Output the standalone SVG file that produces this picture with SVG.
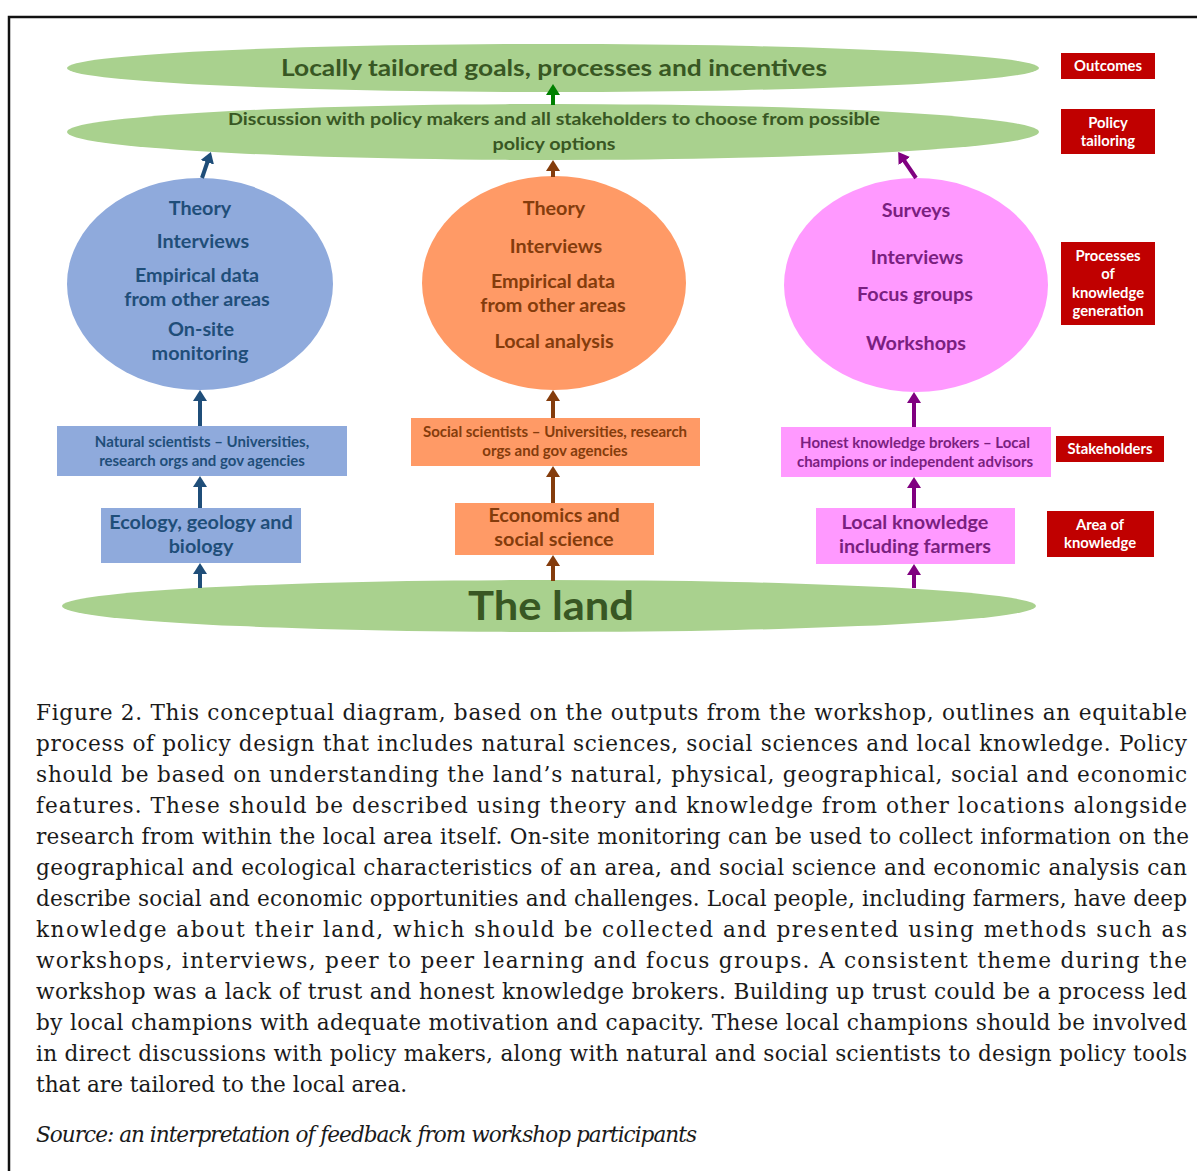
<svg xmlns="http://www.w3.org/2000/svg" width="1197" height="1171" viewBox="0 0 1197 1171">
<style>
.lbl{font-family:Lato,"Open Sans","Liberation Sans",sans-serif;font-weight:bold;text-anchor:middle}
.g{fill:#385723}
.b{fill:#1F4E79}
.o{fill:#843C0C}
.p{fill:#7A1F80}
.w{fill:#FFFFFF}
.red{fill:#C00000}
.big{font-size:19.8px}
.sm{font-size:15px}
.tag{font-size:14.8px}
.cap{font-family:"DejaVu Serif","Liberation Serif",serif;font-size:21.6px;fill:#1a1a1a}
.ln{stroke-width:4;fill:none}
</style>
<defs>
<marker id="hb" markerUnits="userSpaceOnUse" markerWidth="12" markerHeight="14" refX="3" refY="7" orient="auto"><path d="M0,0 L11,7 L0,14 z" fill="#1F4E79"/></marker>
<marker id="ho" markerUnits="userSpaceOnUse" markerWidth="12" markerHeight="14" refX="3" refY="7" orient="auto"><path d="M0,0 L11,7 L0,14 z" fill="#843C0C"/></marker>
<marker id="hp" markerUnits="userSpaceOnUse" markerWidth="12" markerHeight="14" refX="3" refY="7" orient="auto"><path d="M0,0 L11,7 L0,14 z" fill="#800080"/></marker>
<marker id="hg" markerUnits="userSpaceOnUse" markerWidth="12" markerHeight="14" refX="3" refY="7" orient="auto"><path d="M0,0 L11,7 L0,14 z" fill="#008000"/></marker>
</defs>
<rect width="1197" height="1171" fill="#FFFFFF"/>
<rect x="9" y="17" width="1200" height="1170" fill="none" stroke="#111" stroke-width="2.5"/>

<g id="outcomes">
<ellipse cx="553" cy="68" rx="486" ry="24" fill="#A9D18E"/>
<text class="lbl g" x="554" y="76" font-size="23" textLength="546" lengthAdjust="spacingAndGlyphs">Locally tailored goals, processes and incentives</text>
</g>
<g id="discussion">
<ellipse cx="553" cy="132" rx="486" ry="28" fill="#A9D18E"/>
<text class="lbl g" x="554" y="125" font-size="17" textLength="652" lengthAdjust="spacingAndGlyphs">Discussion with policy makers and all stakeholders to choose from possible</text>
<text class="lbl g" x="554" y="150" font-size="17" textLength="123" lengthAdjust="spacingAndGlyphs">policy options</text>
</g>

<g id="natural-process">
<ellipse cx="200" cy="284" rx="133" ry="106" fill="#8FAADC"/>
<text class="lbl b big" x="200" y="215">Theory</text>
<text class="lbl b big" x="203" y="248">Interviews</text>
<text class="lbl b big" x="197" y="282">Empirical data</text>
<text class="lbl b big" x="197" y="306">from other areas</text>
<text class="lbl b big" x="201" y="336">On-site</text>
<text class="lbl b big" x="200" y="360">monitoring</text>
</g>
<g id="social-process">
<ellipse cx="554" cy="283" rx="132" ry="107" fill="#FF9A66"/>
<text class="lbl o big" x="554" y="215">Theory</text>
<text class="lbl o big" x="556" y="253">Interviews</text>
<text class="lbl o big" x="553" y="288">Empirical data</text>
<text class="lbl o big" x="553" y="312">from other areas</text>
<text class="lbl o big" x="554" y="348">Local analysis</text>
</g>
<g id="local-process">
<ellipse cx="916" cy="285" rx="132" ry="107" fill="#FF99FF"/>
<text class="lbl p big" x="916" y="217">Surveys</text>
<text class="lbl p big" x="917" y="264">Interviews</text>
<text class="lbl p big" x="915" y="301">Focus groups</text>
<text class="lbl p big" x="916" y="350">Workshops</text>
</g>

<g id="natural-scientists">
<rect x="57" y="426" width="290" height="50" fill="#8FAADC"/>
<text class="lbl b sm" x="202" y="447">Natural scientists – Universities,</text>
<text class="lbl b sm" x="202" y="466">research orgs and gov agencies</text>
</g>
<g id="social-scientists">
<rect x="411" y="418" width="289" height="48" fill="#FF9A66"/>
<text class="lbl o sm" x="555" y="437">Social scientists – Universities, research</text>
<text class="lbl o sm" x="555" y="456">orgs and gov agencies</text>
</g>
<g id="brokers">
<rect x="781" y="427" width="270" height="50" fill="#FF99FF"/>
<text class="lbl p sm" x="915" y="448">Honest knowledge brokers – Local</text>
<text class="lbl p sm" x="915" y="467">champions or independent advisors</text>
</g>

<g id="ecology">
<rect x="101" y="508" width="200" height="55" fill="#8FAADC"/>
<text class="lbl b big" x="201" y="529">Ecology, geology and</text>
<text class="lbl b big" x="201" y="553">biology</text>
</g>
<g id="economics">
<rect x="455" y="503" width="199" height="52" fill="#FF9A66"/>
<text class="lbl o big" x="554" y="522">Economics and</text>
<text class="lbl o big" x="554" y="546">social science</text>
</g>
<g id="local-knowledge">
<rect x="816" y="508" width="199" height="56" fill="#FF99FF"/>
<text class="lbl p big" x="915" y="529">Local knowledge</text>
<text class="lbl p big" x="915" y="553">including farmers</text>
</g>

<g id="land">
<ellipse cx="549" cy="606" rx="487" ry="26" fill="#A9D18E"/>
<text class="lbl g" x="551" y="620" font-size="40" textLength="166" lengthAdjust="spacingAndGlyphs">The land</text>
</g>

<g id="tag-outcomes"><rect class="red" x="1061" y="53" width="94" height="26"/><text class="lbl w tag" x="1108" y="71">Outcomes</text></g>
<g id="tag-policy"><rect class="red" x="1061" y="109" width="94" height="45"/><text class="lbl w tag" x="1108" y="128">Policy</text><text class="lbl w tag" x="1108" y="146">tailoring</text></g>
<g id="tag-processes"><rect class="red" x="1061" y="242" width="94" height="83"/><text class="lbl w tag" x="1108" y="261">Processes</text><text class="lbl w tag" x="1108" y="279">of</text><text class="lbl w tag" x="1108" y="298">knowledge</text><text class="lbl w tag" x="1108" y="316">generation</text></g>
<g id="tag-stakeholders"><rect class="red" x="1056" y="436" width="108" height="26"/><text class="lbl w tag" x="1110" y="454">Stakeholders</text></g>
<g id="tag-area"><rect class="red" x="1047" y="511" width="107" height="46"/><text class="lbl w tag" x="1100" y="530">Area of</text><text class="lbl w tag" x="1100" y="548">knowledge</text></g>

<g id="connectors">
<line class="ln" stroke="#008000" x1="553" y1="105" x2="553" y2="92" marker-end="url(#hg)"/>
<line class="ln" stroke="#1F4E79" x1="202" y1="178" x2="208.3" y2="159.5" marker-end="url(#hb)"/>
<line class="ln" stroke="#843C0C" x1="553" y1="177" x2="553" y2="168" marker-end="url(#ho)"/>
<line class="ln" stroke="#800080" x1="916" y1="178" x2="902.7" y2="158.5" marker-end="url(#hp)"/>
<line class="ln" stroke="#1F4E79" x1="200" y1="426" x2="200" y2="398" marker-end="url(#hb)"/>
<line class="ln" stroke="#1F4E79" x1="200" y1="508" x2="200" y2="484" marker-end="url(#hb)"/>
<line class="ln" stroke="#1F4E79" x1="200" y1="588" x2="200" y2="571" marker-end="url(#hb)"/>
<line class="ln" stroke="#843C0C" x1="553" y1="418" x2="553" y2="398" marker-end="url(#ho)"/>
<line class="ln" stroke="#843C0C" x1="553" y1="503" x2="553" y2="474" marker-end="url(#ho)"/>
<line class="ln" stroke="#843C0C" x1="553" y1="581" x2="553" y2="563" marker-end="url(#ho)"/>
<line class="ln" stroke="#800080" x1="914" y1="427" x2="914" y2="400" marker-end="url(#hp)"/>
<line class="ln" stroke="#800080" x1="914" y1="508" x2="914" y2="485" marker-end="url(#hp)"/>
<line class="ln" stroke="#800080" x1="914" y1="588" x2="914" y2="572" marker-end="url(#hp)"/>
</g>

<g id="caption">
<text class="cap" x="36" y="720" textLength="1151" lengthAdjust="spacing">Figure 2. This conceptual diagram, based on the outputs from the workshop, outlines an equitable</text>
<text class="cap" x="36" y="751" textLength="1151" lengthAdjust="spacing">process of policy design that includes natural sciences, social sciences and local knowledge. Policy</text>
<text class="cap" x="36" y="782" textLength="1151" lengthAdjust="spacing">should be based on understanding the land’s natural, physical, geographical, social and economic</text>
<text class="cap" x="36" y="813" textLength="1151" lengthAdjust="spacing">features. These should be described using theory and knowledge from other locations alongside</text>
<text class="cap" x="36" y="844" textLength="1153" lengthAdjust="spacing">research from within the local area itself. On-site monitoring can be used to collect information on the</text>
<text class="cap" x="36" y="875" textLength="1151" lengthAdjust="spacing">geographical and ecological characteristics of an area, and social science and economic analysis can</text>
<text class="cap" x="36" y="906" textLength="1151" lengthAdjust="spacing">describe social and economic opportunities and challenges. Local people, including farmers, have deep</text>
<text class="cap" x="36" y="937" textLength="1151" lengthAdjust="spacing">knowledge about their land, which should be collected and presented using methods such as</text>
<text class="cap" x="36" y="968" textLength="1151" lengthAdjust="spacing">workshops, interviews, peer to peer learning and focus groups. A consistent theme during the</text>
<text class="cap" x="36" y="999" textLength="1151" lengthAdjust="spacing">workshop was a lack of trust and honest knowledge brokers. Building up trust could be a process led</text>
<text class="cap" x="36" y="1030" textLength="1151" lengthAdjust="spacing">by local champions with adequate motivation and capacity. These local champions should be involved</text>
<text class="cap" x="36" y="1061" textLength="1151" lengthAdjust="spacing">in direct discussions with policy makers, along with natural and social scientists to design policy tools</text>
<text class="cap" x="36" y="1092">that are tailored to the local area.</text>
<text class="cap" x="36" y="1142" font-style="italic" textLength="661" lengthAdjust="spacing">Source: an interpretation of feedback from workshop participants</text>
</g>
</svg>
